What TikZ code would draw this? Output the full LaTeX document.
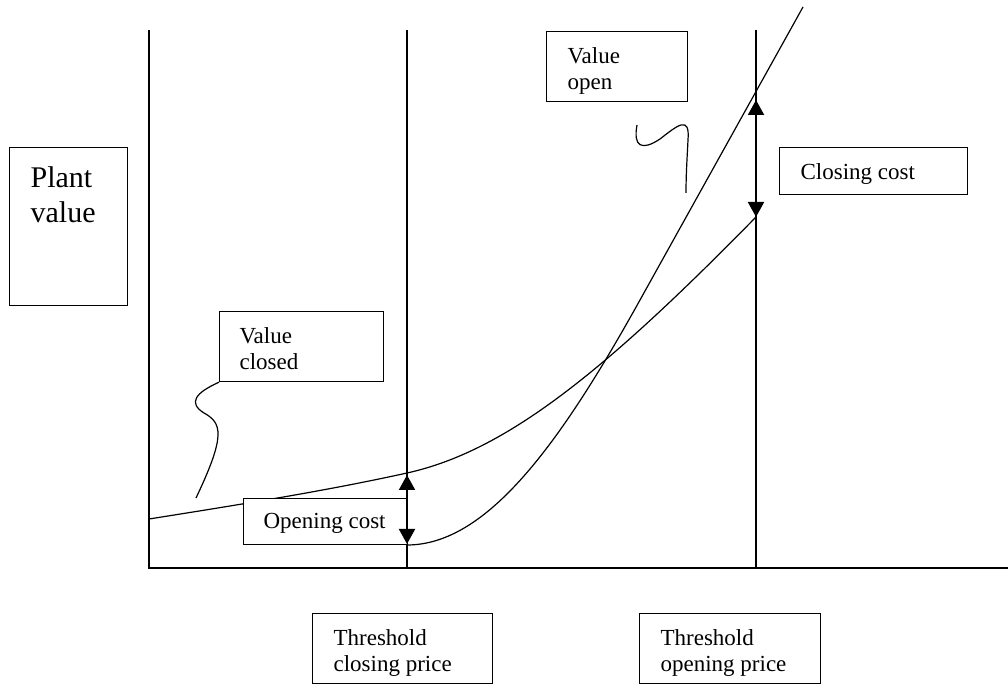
\documentclass[tikz,border=0pt]{standalone}
\usepackage{fontspec}
\setmainfont{Liberation Serif}
\usetikzlibrary{arrows.meta}

\begin{document}
\begin{tikzpicture}[
x=1pt, y=1pt,
line width=1.2pt,
box/.style={draw, fill=white, anchor=north west, inner sep=0pt},
lbl/.style={anchor=north west, inner sep=0pt, align=left,
  font=\fontsize{23}{26}\selectfont},
cost/.style={line width=2pt,
  {Triangle[width=16pt,length=15pt]}-{Triangle[width=16pt,length=15pt]}},
]
\useasboundingbox (0,0) rectangle (1008,685);
\coordinate (ytop) at (149,655);
\coordinate (O) at (149,117);
\coordinate (xend) at (1008,117);
\coordinate (closetop) at (407,655);
\coordinate (closefoot) at (407,117);
\coordinate (opentop) at (756,655);
\coordinate (openfoot) at (756,117);
\draw (ytop) -- (O) -- (xend);
\draw (closetop) -- (closefoot);
\draw (opentop) -- (openfoot);

\coordinate (vc0) at (149,166);
\coordinate (vc1) at (407,212);
\coordinate (vc2) at (756,468);
\draw (vc0) .. controls (250,182) and (330,195) .. (vc1)
  .. controls (507,234) and (606,315) .. (vc2);
\coordinate (vo0) at (407,140);
\coordinate (vo1) at (640,385);
\coordinate (vo2) at (803,678);
\draw (vo0) .. controls (487,140) and (560,241) .. (vo1) -- (vo2);

\node[box, minimum width=118pt, minimum height=158pt] (plantbox) at (9,538) {};
\node[lbl, font=\fontsize{30}{35}\selectfont] (planttxt)
  at ([shift={(21,-19.5)}]plantbox.north west) {Plant\\value};
\node[box, minimum width=164pt, minimum height=70pt] (closedbox) at (219,374) {};
\node[lbl] (closedtxt) at ([shift={(20,-16)}]closedbox.north west) {Value\\closed};
\node[box, minimum width=141pt, minimum height=70pt] (openbox) at (546,654) {};
\node[lbl] (opentxt) at ([shift={(21,-15.5)}]openbox.north west) {Value\\open};
\node[box, minimum width=188pt, minimum height=47pt] (closingbox) at (779,538) {};
\node[lbl] (closingtxt) at ([shift={(21,-15.5)}]closingbox.north west) {Closing cost};
\node[box, minimum width=164pt, minimum height=46pt] (openingbox) at (243,187) {};
\node[lbl] (openingtxt) at ([shift={(20,-14.5)}]openingbox.north west) {Opening cost};
\node[box, minimum width=180pt, minimum height=70pt] (thrclosebox) at (312,72) {};
\node[lbl] (thrclosetxt) at ([shift={(21,-16)}]thrclosebox.north west) {Threshold\\closing price};
\node[box, minimum width=181pt, minimum height=70pt] (thropenbox) at (639,72) {};
\node[lbl] (thropentxt) at ([shift={(21,-16)}]thropenbox.north west) {Threshold\\opening price};

\coordinate (opencostup) at (407,210);
\coordinate (opencostdown) at (407,141);
\coordinate (closecostup) at (756,585);
\coordinate (closecostdown) at (756,468);
\draw[cost] (opencostup) -- (opencostdown);
\draw[cost] (closecostup) -- (closecostdown);

\coordinate (closedtip) at (196,187);
\draw (closedbox.south west) .. controls (195,292) and (188,282) .. (204,272)
  .. controls (222,262) and (226,250) .. (closedtip);
\coordinate (openend) at (637,560);
\coordinate (opentip) at (686,492);
\draw (openend) .. controls (633,538) and (642,534) .. (660,546)
  .. controls (678,560) and (690,570) .. (688,545)
  .. controls (687,525) and (686,510) .. (opentip);
\end{tikzpicture}
\end{document}
